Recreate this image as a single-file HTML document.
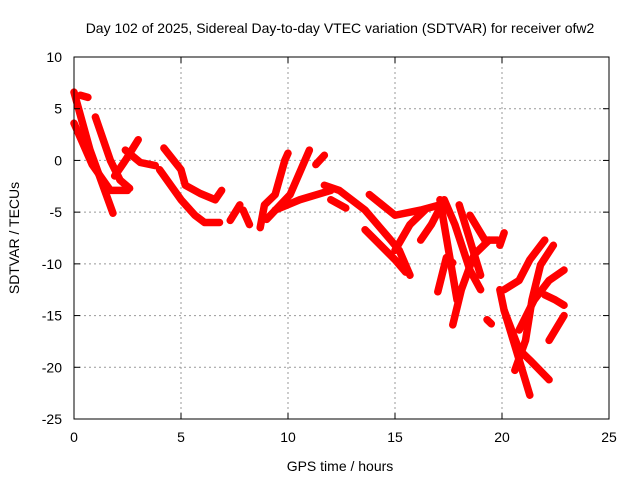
<!DOCTYPE html>
<html><head><meta charset="utf-8"><style>
body{margin:0;background:#fff}
svg{display:block;font-family:"Liberation Sans",sans-serif}
</style></head><body>
<svg id="chart" width="640" height="480" viewBox="0 0 640 480">
<rect width="640" height="480" fill="#fff"/>
<g id="grid"></g>
<g id="series"></g>
<rect x="74" y="57" width="535" height="362" fill="none" stroke="#000" stroke-width="1"/>
<g id="ticks"></g>
<text x="340" y="33" text-anchor="middle" font-size="14">Day 102 of 2025, Sidereal Day-to-day VTEC variation (SDTVAR) for receiver ofw2</text>
<text x="340" y="471" text-anchor="middle" font-size="14">GPS time / hours</text>
<text transform="translate(19,238) rotate(-90)" text-anchor="middle" font-size="14">SDTVAR / TECUs</text>
</svg>
<script>
const xTicks=[0,5,10,15,20,25];
const yTicks=[10,5,0,-5,-10,-15,-20,-25];
const tracks=[
[[0,6.6],[0.75,1.0],[1.82,-5.1]],
[[0,3.6],[0.85,-0.4],[1.7,-2.9],[2.5,-2.9]],
[[0.3,6.3],[0.65,6.1]],
[[1.0,4.2],[1.7,0],[2.15,-1.9],[2.6,-2.7]],
[[3.0,2.0],[2.4,0],[1.9,-1.5]],
[[2.4,1],[3.1,-0.2],[3.8,-0.5]],
[[4.2,1.2],[5,-0.9],[5.2,-2.4],[5.9,-3.2],[6.6,-3.8],[6.9,-2.9]],
[[4.0,-0.9],[5,-3.8],[5.65,-5.3],[6.1,-6],[6.8,-6]],
[[7.3,-5.8],[7.75,-4.3]],
[[7.9,-4.8],[8.2,-6.2]],
[[8.7,-6.5],[8.9,-4.3],[9.4,-3.3],[9.85,0],[10,0.7]],
[[9.0,-5.7],[10.1,-3.3],[11,1.0]],
[[9.4,-4.8],[10.55,-3.8],[12,-2.9]],
[[11.3,-0.4],[11.7,0.5]],
[[11.7,-2.4],[12.4,-2.9],[13.6,-4.8],[14.8,-7.7],[15.2,-8.7],[15.7,-11.1]],
[[12,-3.8],[12.7,-4.6]],
[[13.6,-6.7],[15,-9.6],[15.5,-10.8]],
[[13.8,-3.3],[15,-5.3],[16.2,-4.8],[17.1,-4.3]],
[[15,-8.7],[15.7,-6.2],[16.4,-4.8]],
[[16.2,-7.7],[16.7,-6.2],[17.3,-3.8],[17.8,-6.2],[18.5,-10.6],[19,-12.5]],
[[17,-12.7],[17.4,-9.4],[17.7,-9.9]],
[[17.7,-15.9],[18.1,-12.5],[18.7,-9.1],[19.4,-7.7]],
[[17.1,-3.8],[17.9,-13.5]],
[[18,-4.3],[18.5,-7.7],[19,-11.1]],
[[18.5,-5.3],[19.2,-7.7],[19.8,-7.7]],
[[19.9,-8.2],[20.1,-7.0]],
[[19.9,-12.5],[20.1,-14.5],[20.6,-17.9],[21.3,-22.7]],
[[20.1,-14.5],[20.8,-18.3],[21.3,-19.3],[22.2,-21.2]],
[[20.6,-20.3],[21.1,-17.4],[21.4,-13.5],[21.8,-10.1],[22.4,-8.2]],
[[20.1,-12.5],[20.8,-11.6],[21.3,-9.6],[22,-7.7]],
[[20.8,-16.4],[21.5,-13.5],[22.2,-11.6],[22.9,-10.6]],
[[22,-13],[22.5,-13.5],[22.9,-14]],
[[22.2,-17.4],[22.9,-15]],
[[19.3,-15.4],[19.5,-15.8]]
];
const x=h=>74+h*535/25;
const y=v=>57+(10-v)*362/35;
const NS='http://www.w3.org/2000/svg';
const grid=document.getElementById('grid'),ticks=document.getElementById('ticks'),ser=document.getElementById('series');
function mk(tag,attrs,parent){const e=document.createElementNS(NS,tag);for(const k in attrs)e.setAttribute(k,attrs[k]);parent.appendChild(e);return e;}
xTicks.forEach(t=>{
 if(t>0&&t<25){const g=mk('line',{x1:x(t),x2:x(t),y1:57,y2:419,stroke:'#999','stroke-dasharray':'2,3'},grid);
 
 }
 mk('line',{x1:x(t),x2:x(t),y1:419,y2:413,stroke:'#000'},ticks);
 mk('line',{x1:x(t),x2:x(t),y1:57,y2:63,stroke:'#000'},ticks);
 const l=mk('text',{x:x(t),y:442,'text-anchor':'middle','font-size':14},ticks);l.textContent=t;
 
 
});
yTicks.forEach(t=>{
 if(t<10&&t>-25){const g=mk('line',{x1:74,x2:609,y1:y(t),y2:y(t),stroke:'#999','stroke-dasharray':'2,3'},grid);
 
 }
 mk('line',{x1:74,x2:80,y1:y(t),y2:y(t),stroke:'#000'},ticks);
 mk('line',{x1:609,x2:603,y1:y(t),y2:y(t),stroke:'#000'},ticks);
 const l=mk('text',{x:62,y:y(t)+5,'text-anchor':'end','font-size':14},ticks);l.textContent=t;
 
 
});
tracks.forEach(tr=>{
 const p=mk('polyline',{points:tr.map(d=>x(d[0])+','+y(d[1])).join(' '),fill:'none',stroke:'#f00','stroke-width':7.5,'stroke-linejoin':'round','stroke-linecap':'round'},ser);
 
 
});
</script>
</body></html>
